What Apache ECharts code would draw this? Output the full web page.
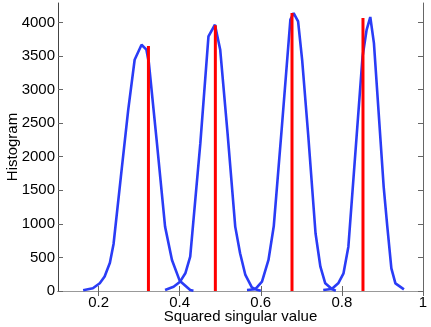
<!DOCTYPE html>
<html>
<head>
<meta charset="utf-8">
<script src="https://cdn.jsdelivr.net/npm/echarts@6/dist/echarts.min.js"></script>
<style>
    html, body { margin: 0; padding: 0; background: #fff; }
    #main { width: 431px; height: 327px; }
</style>
</head>
<body>
<div id="main"></div>
<script>
    // histogram curves (x = squared singular value, y = count)
    var curve1X = [0.162, 0.186, 0.203, 0.215, 0.228, 0.237, 0.255, 0.273, 0.289, 0.306, 0.318, 0.324, 0.344, 0.364, 0.381, 0.400, 0.426, 0.434];
    var curve1Y = [10, 40, 115, 215, 420, 700, 1700, 2690, 3445, 3668, 3595, 3400, 2200, 959, 462, 154, 15, 5];

    var curve2X = [0.364, 0.385, 0.401, 0.414, 0.426, 0.451, 0.471, 0.487, 0.500, 0.518, 0.537, 0.549, 0.562, 0.578, 0.590, 0.600];
    var curve2Y = [15, 64, 139, 264, 511, 2202, 3792, 3966, 3593, 2355, 959, 562, 239, 55, 20, 5];

    var curve3X = [0.566, 0.586, 0.603, 0.619, 0.632, 0.651, 0.673, 0.681, 0.692, 0.702, 0.717, 0.735, 0.747, 0.759, 0.776, 0.785];
    var curve3Y = [15, 25, 138, 462, 964, 2370, 4042, 4140, 4017, 3444, 2320, 860, 362, 115, 25, 5];

    var curve4X = [0.754, 0.775, 0.791, 0.804, 0.816, 0.851, 0.861, 0.870, 0.879, 0.903, 0.912, 0.922, 0.932, 0.953];
    var curve4Y = [15, 30, 114, 264, 660, 3494, 3891, 4081, 3693, 1555, 959, 338, 114, 25];

    // red markers (vertical lines)
    var redX = [0.323, 0.488, 0.677, 0.852];
    var redY = [3650, 3960, 4140, 4065];

    var xTicks = [0.2, 0.4, 0.6, 0.8, 1];
    var yTicks = [0, 500, 1000, 1500, 2000, 2500, 3000, 3500, 4000];

    var blue = '#2a3cf6';
    var red = '#ff0000';
    var font = 'Liberation Sans, Arial, sans-serif';

    function pairs(xs, ys) {
        var out = [];
        for (var i = 0; i < xs.length; i++) out.push([xs[i], ys[i]]);
        return out;
    }

    var series = [];
    [[curve1X, curve1Y], [curve2X, curve2Y], [curve3X, curve3Y], [curve4X, curve4Y]].forEach(function (c) {
        series.push({
            type: 'line',
            data: pairs(c[0], c[1]),
            showSymbol: false,
            lineStyle: { color: blue, width: 2.6 },
            z: 2
        });
    });
    for (var i = 0; i < redX.length; i++) {
        series.push({
            type: 'line',
            data: [[redX[i], 0], [redX[i], redY[i]]],
            showSymbol: false,
            lineStyle: { color: red, width: 3 },
            z: 3
        });
    }

    var chart = echarts.init(document.getElementById('main'));
    var option = {
        animation: false,
        grid: { left: 58, right: 8, top: 3, bottom: 36, containLabel: false, outerBoundsMode: 'none' },
        xAxis: [
            {
                type: 'value', min: 0.1, max: 1, position: 'bottom',
                axisLine: { lineStyle: { color: '#333', width: 1 } },
                axisTick: { inside: true, length: 5, customValues: xTicks, lineStyle: { color: '#666' } },
                axisLabel: { customValues: xTicks, fontSize: 15, color: '#000', fontFamily: font, margin: 4,
                    formatter: function (v) { return String(v); } },
                splitLine: { show: false },
                name: 'Squared singular value', nameLocation: 'middle', nameGap: 18, nameMoveOverlap: false,
                nameTextStyle: { fontSize: 15, color: '#000', fontFamily: font }
            },
            {
                type: 'value', min: 0.1, max: 1, position: 'top',
                axisLine: { lineStyle: { color: '#999', width: 1 } },
                axisTick: { inside: true, length: 5, customValues: xTicks, lineStyle: { color: '#666' } },
                axisLabel: { show: false },
                splitLine: { show: false }
            }
        ],
        yAxis: [
            {
                type: 'value', min: 0, max: 4290, position: 'left',
                axisLine: { show: true, lineStyle: { color: '#444', width: 1 } },
                axisTick: { show: true, inside: true, length: 5, customValues: yTicks, lineStyle: { color: '#666' } },
                axisLabel: { customValues: yTicks, fontSize: 15, color: '#000', fontFamily: font, margin: 3,
                    formatter: function (v) { return String(v); } },
                splitLine: { show: false },
                name: 'Histogram', nameLocation: 'middle', nameGap: 38, nameMoveOverlap: false,
                nameTextStyle: { fontSize: 15, color: '#000', fontFamily: font }
            },
            {
                type: 'value', min: 0, max: 4290, position: 'right',
                axisLine: { show: true, lineStyle: { color: '#666', width: 1 } },
                axisTick: { show: true, inside: true, length: 5, customValues: yTicks, lineStyle: { color: '#666' } },
                axisLabel: { show: false },
                splitLine: { show: false }
            }
        ],
        series: series
    };
    chart.setOption(option);
</script>
</body>
</html>
